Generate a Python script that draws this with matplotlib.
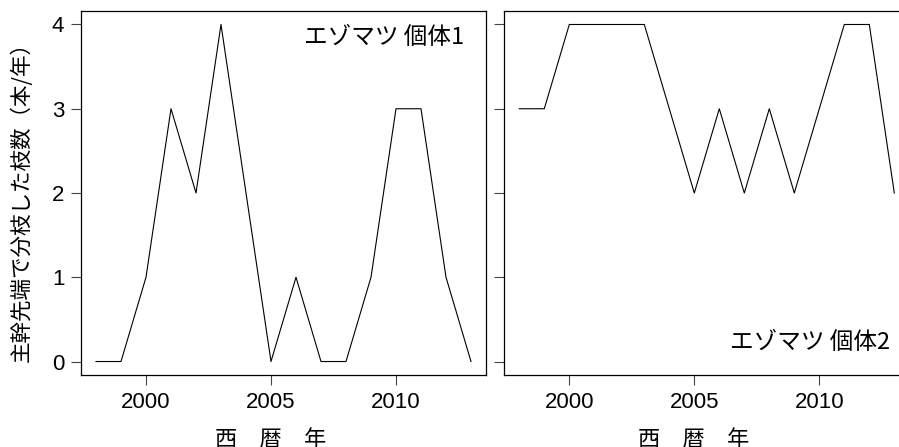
import matplotlib
matplotlib.use("Agg")
import matplotlib.pyplot as plt

years = list(range(1998, 2014))
tree1 = [0, 0, 1, 3, 2, 4, 2, 0, 1, 0, 0, 1, 3, 3, 1, 0]
tree2 = [3, 3, 4, 4, 4, 4, 3, 2, 3, 2, 3, 2, 3, 4, 4, 2]
panel_labels = ["エゾマツ 個体1", "エゾマツ 個体2"]
ylabel = "主幹先端で分枝した枝数（本/年）"
xlabel = "西　暦　年"
xticks = [2000, 2005, 2010]
yticks = [0, 1, 2, 3, 4]

latin = ["Liberation Sans", "Noto Sans CJK JP"]
jp = ["Noto Sans CJK JP", "DejaVu Sans"]

W, H = 899, 447
fig = plt.figure(figsize=(W / 100, H / 100), dpi=100)

def px_axes(left, right, top, bottom):
    return fig.add_axes([left / W, 1 - bottom / H, (right - left) / W, (bottom - top) / H])

ax1 = px_axes(81, 486, 11, 375)
ax2 = px_axes(504.3, 909.3, 11, 375)

for ax, vals, show_y in [(ax1, tree1, True), (ax2, tree2, False)]:
    ax.plot(years, vals, color="black", lw=0.8)
    ax.set_xlim(1997.4, 2013.6)
    ax.set_ylim(-0.16, 4.16)
    ax.set_xticks(xticks)
    ax.set_yticks(yticks)
    ax.tick_params(direction="out", length=7, width=0.8, color="#444444",
                   labelsize=16)
    ax.tick_params(axis="x", pad=5)
    ax.tick_params(axis="y", pad=5)
    for t in ax.get_xticklabels() + ax.get_yticklabels():
        t.set_family(latin)
    if not show_y:
        ax.set_yticklabels([])
    for s in ax.spines.values():
        s.set_linewidth(0.9)
        s.set_color("black")
    ax.set_xlabel(xlabel, family=jp, fontsize=16)
    ax.xaxis.set_label_coords(0.467, -0.145)

ax1.text(0.946, 0.958, panel_labels[0], transform=ax1.transAxes, ha="right",
         va="top", family=jp, fontsize=17)
ax2.text(2013.0 + (890 - 894.3) / 25, 0.23, panel_labels[1], ha="right",
         va="center", family=jp, fontsize=17)

ax1.set_ylabel(ylabel, family=jp, fontsize=15.5)
ax1.yaxis.set_label_coords(-0.118, 0.49)

fig.savefig("out.png", dpi=100)
